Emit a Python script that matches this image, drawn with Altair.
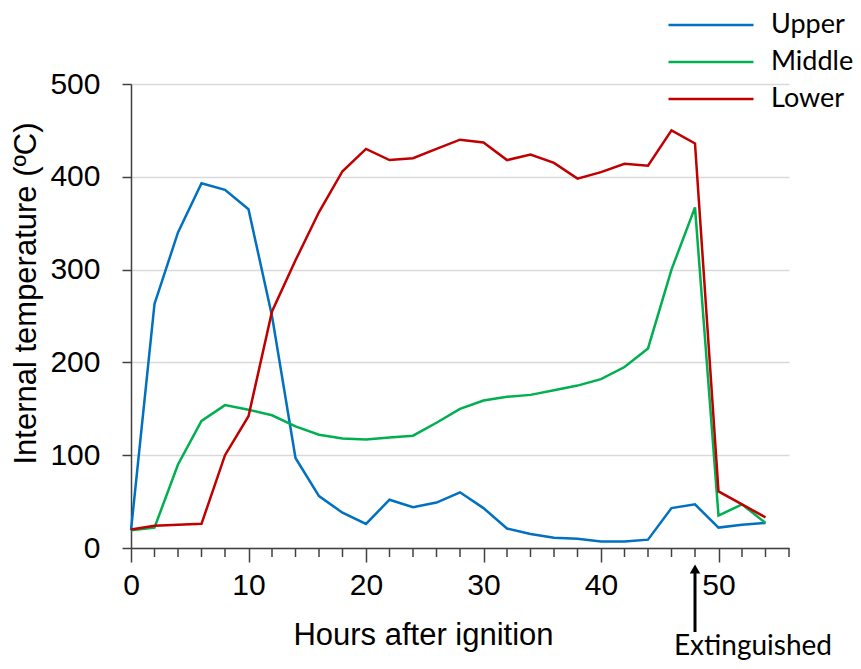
import altair as alt
import pandas as pd

hours = list(range(0, 56, 2))
upper = [19, 263, 340, 393, 386, 365, 250, 97, 56, 38, 26, 52, 44, 49, 60, 43, 21, 15, 11, 10, 7, 7, 9, 43, 47, 22, 25, 27]
middle = [19, 22, 90, 137, 154, 149, 143, 131, 122, 118, 117, 119, 121, 135, 150, 159, 163, 165, 170, 175, 182, 195, 215, 300, 367, 35, 47, 27]
lower = [20, 24, 25, 26, 100, 142, 255, 310, 362, 406, 430, 418, 420, 430, 440, 437, 418, 424, 415, 398, 405, 414, 412, 450, 436, 61, 47, 33]

series = ["Upper", "Middle", "Lower"]
colors = ["#0070C0", "#00B050", "#C00000"]
major_ticks = [0, 10, 20, 30, 40, 50]
minor_ticks = [2, 4, 6, 8, 12, 14, 16, 18, 22, 24, 26, 28, 32, 34, 36, 38, 42, 44, 46, 48, 52, 54, 56]
y_ticks = [0, 100, 200, 300, 400, 500]
event_hour = [48]
event_label = ["Extinguished"]

rows = []
for name, vals in zip(series, [upper, middle, lower]):
    for h, v in zip(hours, vals):
        rows.append({"hour": h, "temp": v, "series": name})
df = pd.DataFrame(rows)

x_axis = alt.Axis(
    values=major_ticks,
    tickSize=14,
    grid=False,
    labelFontSize=30,
    labelFont="Liberation Sans",
    labelColor="black",
    labelPadding=8,
    labelFlush=False,
    labelOverlap=False,
    titleFontSize=31,
    titleFont="Liberation Sans",
    titleFontWeight="normal",
    titleColor="black",
    titleX=292,
    titleY=96,
    titleAlign="center",
    titleBaseline="alphabetic",
    domainColor="#404040",
    tickColor="#404040",
    domainWidth=1.5,
    tickWidth=1.5,
)

y_axis = alt.Axis(
    values=y_ticks,
    grid=True,
    gridColor="#D9D9D9",
    gridWidth=1.5,
    tickSize=9,
    labelFontSize=30,
    labelFont="Liberation Sans",
    labelColor="black",
    labelPadding=22,
    titleFontSize=31,
    titleFont="Liberation Sans",
    titleFontWeight="normal",
    titleColor="black",
    titleAngle=270,
    titleX=-96,
    titleY=209,
    titleAlign="center",
    titleBaseline="alphabetic",
    domainColor="#404040",
    tickColor="#404040",
    domainWidth=1.5,
    tickWidth=1.5,
)

x_scale = alt.Scale(domain=[0, 56], nice=False)

lines = alt.Chart(df).mark_line(strokeWidth=2.5).encode(
    x=alt.X("hour:Q", scale=x_scale, axis=x_axis, title="Hours after ignition"),
    y=alt.Y("temp:Q", scale=alt.Scale(domain=[0, 500], nice=False), axis=y_axis, title="Internal temperature (ºC)"),
    color=alt.Color(
        "series:N",
        scale=alt.Scale(domain=series, range=colors),
        sort=series,
        legend=alt.Legend(
            title=None,
            orient="none",
            legendX=536,
            legendY=-71,
            symbolType="stroke",
            symbolSize=7225,
            symbolStrokeWidth=2.5,
            clipHeight=24,
            rowPadding=10,
            labelFontSize=27,
            labelFont="Lato",
            labelColor="black",
            labelOffset=16,
            padding=0,
        ),
    ),
    detail="series:N",
)

minor = alt.Chart(pd.DataFrame({"hour": minor_ticks})).mark_rule(color="#404040", strokeWidth=1.5).encode(
    x=alt.X("hour:Q", scale=x_scale), y=alt.value(464), y2=alt.value(473)
)

ev = pd.DataFrame({"hour": event_hour, "label": event_label})
ev_base = alt.Chart(ev)
shaft = ev_base.mark_rule(color="black", strokeWidth=3).encode(
    x="hour:Q", y=alt.value(488), y2=alt.value(548)
)
head = ev_base.mark_point(shape="triangle-up", filled=True, color="black", size=110, opacity=1).encode(
    x="hour:Q", y=alt.value(485)
)
txt = ev_base.mark_text(font="Lato", fontSize=28, color="black", align="center", baseline="alphabetic", dx=58).encode(
    x="hour:Q", y=alt.value(571), text="label:N"
)

chart = alt.layer(lines, minor, shaft, head, txt).properties(
    width=658,
    height=464,
    padding={"left": 123, "top": 76, "right": 64, "bottom": 112},
    autosize=alt.AutoSizeParams(type="none"),
).configure_view(stroke=None)

chart.save("out.html", embed_options={"renderer": "svg", "actions": False})
